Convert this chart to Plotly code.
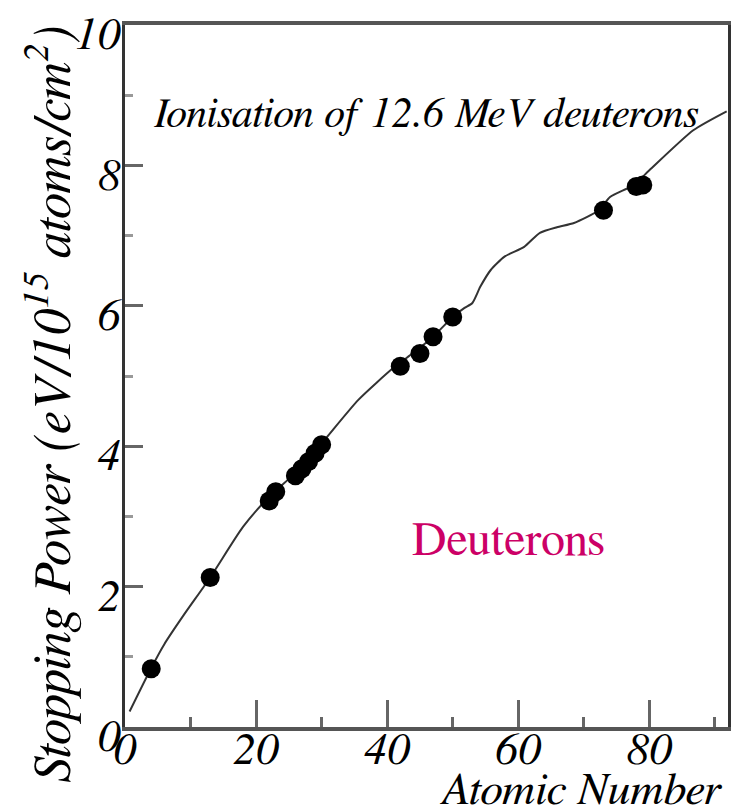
import plotly.graph_objects as go

# Measured points (atomic number, stopping power)
z_points = [4, 13, 22, 23, 26, 27, 28, 29, 30, 42, 45, 47, 50, 73, 78, 79]
sp_points = [0.83, 2.13, 3.22, 3.35, 3.58, 3.68, 3.78, 3.90, 4.02, 5.14, 5.32, 5.56, 5.84, 7.36, 7.70, 7.72]

# Curve
z_curve = [0.7, 4, 6, 9, 13, 18, 22, 26, 30, 35.6, 41, 44, 47, 50, 51.8, 53, 54.2,
           55.8, 57.9, 60.9, 63.3, 65.9, 68.5, 72.3, 74, 77.6, 80, 86.7, 91.8]
sp_curve = [0.22, 0.84, 1.18, 1.6, 2.13, 2.85, 3.28, 3.62, 4.04, 4.66, 5.12, 5.33, 5.56, 5.84,
            5.97, 6.04, 6.27, 6.51, 6.70, 6.84, 7.04, 7.12, 7.18, 7.36, 7.55, 7.72, 7.93, 8.5, 8.77]

x_ticks = [0, 20, 40, 60, 80]
y_ticks = [0, 2, 4, 6, 8, 10]

serif = "FreeSerif, Liberation Serif, serif"

fig = go.Figure()
fig.add_trace(go.Scatter(x=z_curve, y=sp_curve, mode="lines",
                         line=dict(color="#333333", width=2, shape="spline", smoothing=0.6),
                         hoverinfo="skip", showlegend=False))
fig.add_trace(go.Scatter(x=z_points, y=sp_points, mode="markers",
                         marker=dict(color="black", size=19), showlegend=False))

fig.add_annotation(x=4.1, y=8.72, xref="x", yref="y", xanchor="left", yanchor="middle",
                   text="Ionisation of 12.6 MeV deuterons", showarrow=False,
                   font=dict(family=serif, size=42, color="black", style="italic"))
fig.add_annotation(x=58.5, y=2.65, xref="x", yref="y", xanchor="center", yanchor="middle",
                   text="Deuterons", showarrow=False,
                   font=dict(family=serif, size=48, color="#cc0066"))
fig.add_annotation(x=1.0, y=0, xref="paper", yref="paper", xanchor="right", yanchor="top",
                   yshift=-38, xshift=-4,
                   text="Atomic Number", showarrow=False,
                   font=dict(family=serif, size=46, color="black", style="italic"))
fig.add_annotation(x=0, y=0.46, xref="paper", yref="paper", xanchor="center", yanchor="middle",
                   xshift=-75, textangle=-90,
                   text="Stopping Power (eV/10<sup>15</sup> atoms/cm<sup>2</sup>)", showarrow=False,
                   font=dict(family=serif, size=53, color="black", style="italic"))

fig.update_xaxes(range=[0, 92], tickvals=x_ticks, ticktext=[str(v) for v in x_ticks],
                 ticks="inside", ticklen=27, tickwidth=3, tickcolor="#666666",
                 minor=dict(tickvals=[10, 30, 50, 70, 90], ticks="inside", ticklen=10,
                            tickwidth=3, tickcolor="#666666"),
                 showline=True, linewidth=4, linecolor="#555555", mirror=True,
                 showgrid=False, zeroline=False, ticklabelstandoff=-22,
                 tickfont=dict(family=serif, size=46, color="black", style="italic"))
fig.update_yaxes(range=[0, 10], tickvals=y_ticks, ticktext=[str(v) for v in y_ticks],
                 ticks="inside", ticklen=18, tickwidth=3, tickcolor="#666666",
                 minor=dict(tickvals=[1, 3, 5, 7, 9], ticks="inside", ticklen=8,
                            tickwidth=3, tickcolor="#999999"),
                 showline=True, linewidth=3, linecolor="#333333", mirror=True,
                 showgrid=False, zeroline=False, ticklabelstandoff=-8, ticklabelshift=8,
                 tickfont=dict(family=serif, size=46, color="black", style="italic"))

fig.update_layout(width=736, height=811, margin=dict(l=125, r=8, t=25, b=84, autoexpand=False),
                  paper_bgcolor="white", plot_bgcolor="white")

fig.write_html("out.html")
